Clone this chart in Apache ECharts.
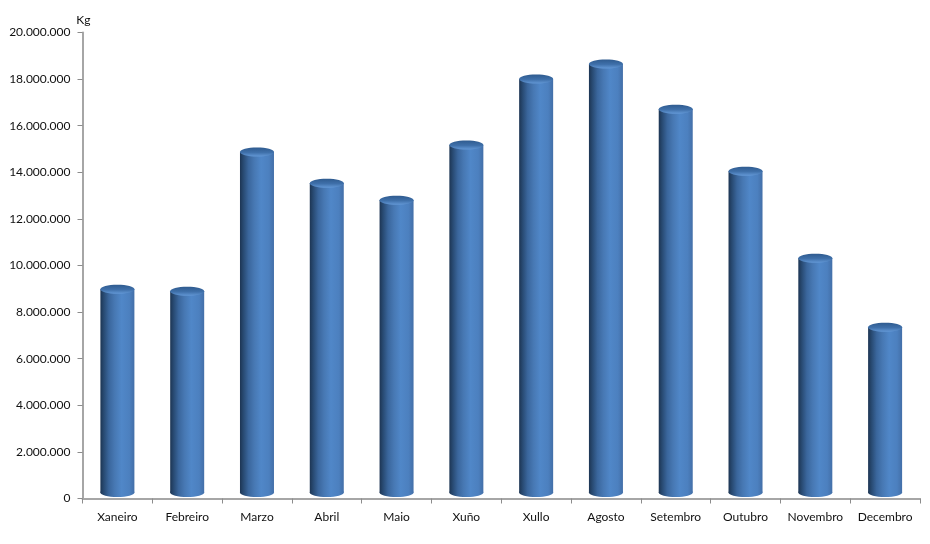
<!DOCTYPE html>
<html><head><meta charset="utf-8">
<style>html,body{margin:0;padding:0;background:#fff}#c{width:930px;height:544px}</style>
<script src="https://cdn.jsdelivr.net/npm/echarts@6/dist/echarts.min.js"></script>
</head><body><div id="c"></div>
<script>
const categories = ['Xaneiro','Febreiro','Marzo','Abril','Maio','Xuño','Xullo','Agosto','Setembro','Outubro','Novembro','Decembro'];
const values = [8980000,8890000,14870000,13530000,12800000,15170000,18000000,18650000,16710000,14050000,10310000,7350000];
const yMax = 20000000;
const yStep = 2000000;
const yName = 'Kg';

const chart = echarts.init(document.getElementById('c'), null, {renderer:'canvas'});
const fontFamily = 'Lato,"Open Sans",sans-serif';
const bodyStops = [
  {offset:0,color:'#1d3553'},{offset:0.1,color:'#284a72'},{offset:0.25,color:'#3a669c'},{offset:0.42,color:'#4778b3'},
  {offset:0.62,color:'#5087c8'},{offset:0.85,color:'#4c80bf'},{offset:1,color:'#436fa8'}];
const bodyGrad = new echarts.graphic.LinearGradient(0,0,1,0,bodyStops);
const topGrad = new echarts.graphic.LinearGradient(0,0,0,1,[
  {offset:0,color:'#2f5b8f'},{offset:0.55,color:'#3f70aa'},{offset:1,color:'#6398d6'}]);
function renderItem(params, api){
  const idx = api.value(0);
  const top = api.coord([idx, api.value(1)]);
  const base = api.coord([idx, 0]);
  const w = 34, rx = w/2, ry = 4.5;
  const cx = top[0], x = cx-rx;
  const bottomY = base[1]-6;
  return {type:'group',children:[
    {type:'ellipse',shape:{cx:cx,cy:bottomY,rx:rx,ry:ry},style:{fill:bodyGrad}},
    {type:'rect',shape:{x:x,y:top[1],width:w,height:bottomY-top[1]},style:{fill:bodyGrad}},
    {type:'ellipse',shape:{cx:cx,cy:top[1],rx:rx,ry:ry},style:{fill:topGrad}}
  ]};
}
chart.setOption({
  animation:false,
  backgroundColor:'#fff',
  grid:{left:82.5,right:10,top:32.5,bottom:45.5,containLabel:false},
  xAxis:{type:'category',data:categories,boundaryGap:true,
    axisLine:{lineStyle:{color:'#a6a6a6',width:2}},
    axisTick:{show:true,length:5,alignWithLabel:false,lineStyle:{color:'#8c8c8c',width:1}},
    axisLabel:{color:'#111',fontFamily,fontSize:12,margin:13,interval:0}},
  yAxis:{type:'value',min:0,max:yMax,interval:yStep,name:yName,
    nameLocation:'end',nameGap:6,
    nameTextStyle:{color:'#111',fontFamily,fontSize:12,align:'right',padding:[0,-8,0,0]},
    splitLine:{show:false},
    axisLine:{show:true,lineStyle:{color:'#a6a6a6',width:2}},
    axisTick:{show:true,length:5,lineStyle:{color:'#8c8c8c',width:1}},
    axisLabel:{color:'#111',fontFamily,fontSize:12,margin:12,
      formatter:v=>String(v).replace(/\B(?=(\d{3})+$)/g,'.')}},
  series:[{type:'custom',renderItem,encode:{x:0,y:1},clip:false,
    data:values.map((v,i)=>[i,v])}]
});
</script></body></html>
